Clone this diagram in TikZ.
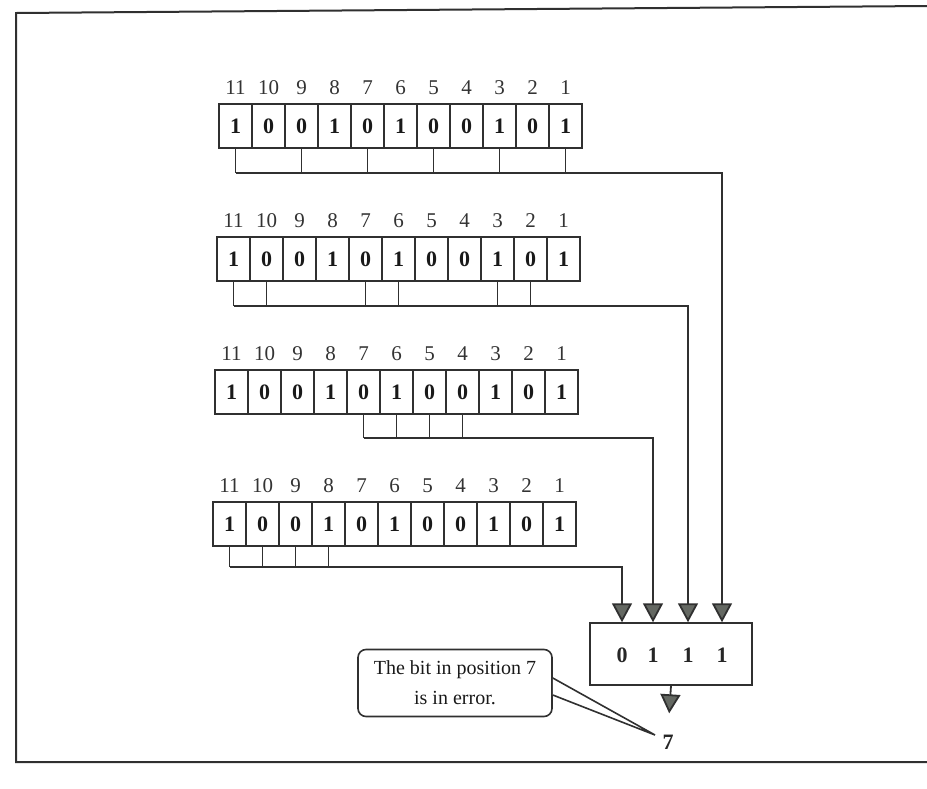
\documentclass[tikz,border=0pt]{standalone}
\usepackage{fontspec}
\setmainfont{Liberation Serif}
\usetikzlibrary{arrows.meta}
\usetikzlibrary{positioning}

\definecolor{inkgray}{HTML}{303030}
\definecolor{tipgray}{HTML}{646862}

\tikzset{
  bitcell/.style={draw=inkgray, line width=1.6pt, minimum width=33pt, minimum height=44pt,
    inner sep=0pt, font=\fontsize{22}{22}\selectfont\bfseries, text=black!90},
  poslabel/.style={font=\fontsize{21}{21}\selectfont, text=black!80},
  bus/.style={draw=inkgray, line width=1.8pt},
  check/.style={bus, -{Triangle[length=19pt,width=20pt,fill=tipgray]}},
  syndigit/.style={font=\fontsize{22}{22}\selectfont\bfseries, text=black!85},
}

\begin{document}
\begin{tikzpicture}[x=1pt,y=-1pt]
\useasboundingbox (0,0) rectangle (927,788);

% page frame
\draw[inkgray, line width=2pt] (927,6) -- (16,13) -- (16,762) -- (927,762);

% four copies of the received word
\foreach \r/\xl/\yc in {1/219/126, 2/217/259, 3/215/392, 4/213/524}{
  \foreach \p/\b [count=\i from 0] in {11/1,10/0,9/0,8/1,7/0,6/1,5/0,4/0,3/1,2/0,1/1}{
    \node[bitcell] (c\r-\p) at (\xl+16.5+33*\i, \yc) {\b};
    \node[poslabel] (n\r-\p) at (\xl+16.5+33*\i, \yc-38) {\p};
  }
}

% recomputed check bits
\node[draw=inkgray, line width=1.5pt, minimum width=162pt, minimum height=62pt] (syndrome) at (671,654) {};
\node[syndigit] (syn8) at (622,655) {0};
\node[syndigit] (syn4) at (653,655) {1};
\node[syndigit] (syn2) at (688,655) {1};
\node[syndigit] (syn1) at (722,655) {1};

% taps of each parity group, led down into the check bits
\foreach \r/\taps/\first/\by/\k in {1/{11,9,7,5,3,1}/11/173/1, 2/{11,10,7,6,3,2}/11/306/2,
                                    3/{7,6,5,4}/7/438/4, 4/{11,10,9,8}/11/567/8}{
  \foreach \p in \taps
    \draw[bus] (c\r-\p.south) -- (c\r-\p.south |- 0,\by);
  \draw[check] (c\r-\first.south |- 0,\by) -- (syn\k |- 0,\by) -- (syn\k |- syndrome.north);
}

% position in error
\node[syndigit] (errpos) at (668,742) {7};
\draw[check] (syndrome.south) -- (errpos.north) [shorten >=18pt];

% note with its pointer
\node[draw=inkgray, line width=1.6pt, rounded corners=8pt, minimum width=194pt, minimum height=67pt,
  align=center, font=\fontsize{20}{30}\selectfont, text=black!90] (note) at (455,683)
  {The bit in position 7\\is in error.};
\coordinate (notetip) at (655,735);
\fill[white] ([yshift=5pt]note.east) -- (notetip) -- ([yshift=-12pt]note.east) -- cycle;
\draw[inkgray, line width=1.6pt] ([yshift=5pt]note.east) -- (notetip) -- ([yshift=-12pt]note.east);
\end{tikzpicture}
\end{document}
